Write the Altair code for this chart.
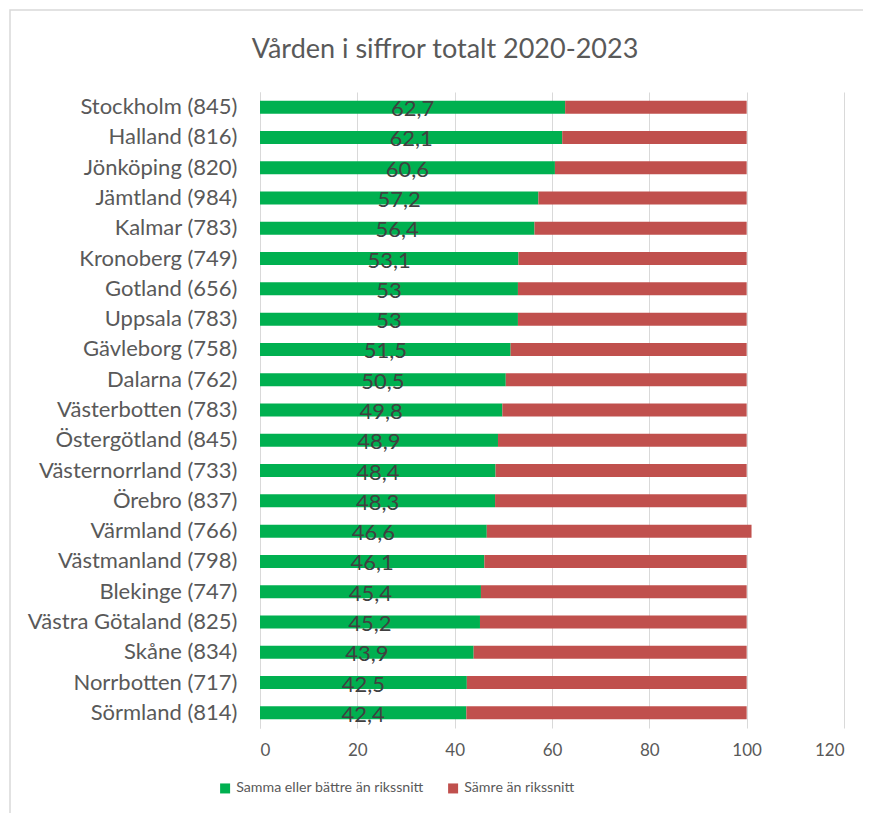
import altair as alt
import pandas as pd

regions = ["Stockholm (845)", "Halland (816)", "Jönköping (820)", "Jämtland (984)",
           "Kalmar (783)", "Kronoberg (749)", "Gotland (656)", "Uppsala (783)",
           "Gävleborg (758)", "Dalarna (762)", "Västerbotten (783)", "Östergötland (845)",
           "Västernorrland (733)", "Örebro (837)", "Värmland (766)", "Västmanland (798)",
           "Blekinge (747)", "Västra Götaland (825)", "Skåne (834)", "Norrbotten (717)",
           "Sörmland (814)"]
better = [62.7, 62.1, 60.6, 57.2, 56.4, 53.1, 53, 53, 51.5, 50.5, 49.8, 48.9,
          48.4, 48.3, 46.6, 46.1, 45.4, 45.2, 43.9, 42.5, 42.4]
worse = [37.3, 37.9, 39.4, 42.8, 43.6, 46.9, 47, 47, 48.5, 49.5, 50.2, 51.1,
         51.6, 51.7, 54.4, 53.9, 54.6, 54.8, 56.1, 57.5, 57.6]
value_labels = ["62,7", "62,1", "60,6", "57,2", "56,4", "53,1", "53", "53", "51,5", "50,5",
                "49,8", "48,9", "48,4", "48,3", "46,6", "46,1", "45,4", "45,2", "43,9",
                "42,5", "42,4"]
series = ["Samma eller bättre än rikssnitt", "Sämre än rikssnitt"]
colors = ["#00B050", "#C0504D"]
x_ticks = [0, 20, 40, 60, 80, 100, 120]
title = ["Vården i siffror totalt 2020-2023"]

FONT = "Lato"
rows = []
for r, b, w in zip(regions, better, worse):
    rows.append({"region": r, "serie": series[0], "value": b, "ord": 0})
    rows.append({"region": r, "serie": series[1], "value": w, "ord": 1})
df = pd.DataFrame(rows)
lab = pd.DataFrame({"region": regions, "better": better, "label": value_labels})

yscale = alt.Scale(domain=regions, paddingInner=0.57, paddingOuter=0.285)
yenc = alt.Y("region:N", sort=regions, scale=yscale,
             axis=alt.Axis(title=None, ticks=False, domain=True, domainColor="#d9d9d9",
                           labelFontSize=22, labelColor="#595959", labelPadding=23,
                           labelFont=FONT, grid=False, labelLimit=400))

bars = alt.Chart(df).mark_bar().encode(
    x=alt.X("value:Q", stack="zero",
            scale=alt.Scale(domain=[0, 120], nice=False),
            axis=alt.Axis(values=x_ticks, title=None, ticks=False, domain=False,
                          grid=True, gridColor="#d9d9d9", labelFontSize=17,
                          labelColor="#595959", labelPadding=14, labelFont=FONT)),
    y=yenc,
    color=alt.Color("serie:N", scale=alt.Scale(domain=series, range=colors),
                    legend=alt.Legend(title=None, orient="none", direction="horizontal",
                                      legendX=-42, legendY=689, symbolType="square",
                                      symbolSize=100, symbolStrokeWidth=0,
                                      labelFontSize=14.2, labelColor="#595959",
                                      labelFont=FONT, labelOffset=4, columnPadding=22,
                                      labelLimit=400)),
    order=alt.Order("ord:Q"),
)

texts = alt.Chart(lab).transform_calculate(mid="datum.better / 2").mark_text(
    fontSize=22, color="#404040", font=FONT, dy=2
).encode(
    x=alt.X("mid:Q"),
    y=alt.Y("region:N", sort=regions, scale=yscale),
    text="label:N",
)

frame = alt.Chart(alt.Data(values=[{}])).mark_rect(
    fill=None, stroke="#d9d9d9", strokeWidth=1.5
).encode(
    x=alt.value(-250), x2=alt.value(640), y=alt.value(-82), y2=alt.value(760)
)

title_mark = alt.Chart(alt.Data(values=[{"t": t} for t in title])).mark_text(
    fontSize=27, font=FONT, color="#595959", align="center", baseline="alphabetic"
).encode(x=alt.value(185), y=alt.value(-34), text="t:N")

chart = alt.layer(frame, bars, texts, title_mark).properties(
    width=584, height=636,
    autosize=alt.AutoSizeParams(type="none"),
    padding={"left": 252, "top": 84, "right": 19, "bottom": 85},
).configure_view(stroke=None)

chart.save("out.html", embed_options={"renderer": "svg", "actions": False})
